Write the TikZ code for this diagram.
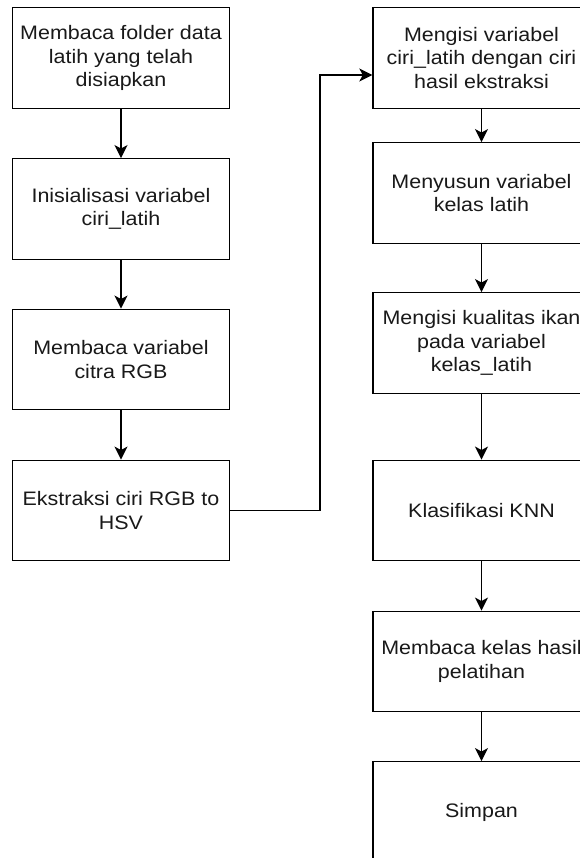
\documentclass[tikz,border=0pt]{standalone}
\usepackage{fontspec}
\setmainfont{Liberation Sans}[FakeStretch=1.1]
\usetikzlibrary{arrows.meta}
\begin{document}
\begin{tikzpicture}[x=1pt,y=-1pt,
  stepbox/.style={draw=black,line width=1.4pt,minimum width=216.6pt,minimum height=100.5pt,inner sep=0pt,align=center,
    font=\fontsize{19.5}{23.5}\selectfont,text=black!90},
  arr/.style={draw=black,line width=1.4pt,-{Stealth[length=13pt,width=13pt,inset=3.5pt]}}]
\clip (0,0) rectangle (580,858);
\fill[white] (0,0) rectangle (580,858);
\node[stepbox] (L1) at (121,58) {Membaca folder data\\latih yang telah\\disiapkan};
\node[stepbox] (L2) at (121,209) {Inisialisasi variabel\\ciri\_latih};
\node[stepbox] (L3) at (121,359.5) {Membaca variabel\\citra RGB};
\node[stepbox] (L4) at (121,510.5) {Ekstraksi ciri RGB to\\HSV};
\node[stepbox,minimum width=217pt] (R1) at (481.5,58) {Mengisi variabel\\ciri\_latih dengan ciri\\hasil ekstraksi};
\node[stepbox,minimum width=217pt] (R2) at (481.5,193) {Menyusun variabel\\kelas latih};
\node[stepbox,minimum width=217pt] (R3) at (481.5,343) {Mengisi kualitas ikan\\pada variabel\\kelas\_latih};
\node[stepbox,minimum width=217pt] (R4) at (481.5,510.5) {Klasifikasi KNN};
\node[stepbox,minimum width=217pt] (R5) at (481.5,661.5) {Membaca kelas hasil\\pelatihan};
\node[stepbox,minimum width=217pt] (R6) at (481.5,812) {Simpan};
\coordinate (bend) at (320,75);
\draw[arr] (L1) -- (L2);
\draw[arr] (L2) -- (L3);
\draw[arr] (L3) -- (L4);
\draw[arr] (L4.east) -- (L4.east -| bend) -- (bend) -- (R1.west |- bend);
\draw[arr] (R1) -- (R2);
\draw[arr] (R2) -- (R3);
\draw[arr] (R3) -- (R4);
\draw[arr] (R4) -- (R5);
\draw[arr] (R5) -- (R6);
\end{tikzpicture}
\end{document}
